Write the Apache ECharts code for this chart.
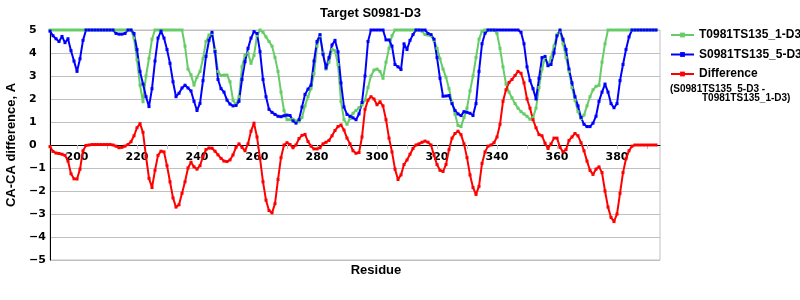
<!DOCTYPE html>
<html><head><meta charset="utf-8">
<script src="https://cdn.jsdelivr.net/npm/echarts@6/dist/echarts.min.js"></script>
<style>html,body{margin:0;padding:0;background:#fff}#c{width:800px;height:300px}</style>
</head><body><div id="c"></div>
<script>
const chartTitle = 'Target S0981-D3';
const xAxisName = 'Residue';
const yAxisName = 'CA-CA difference, A';
const seriesNames = ['T0981TS135_1-D3', 'S0981TS135_5-D3', 'Difference'];
const diffNote = ['(S0981TS135_5-D3 -', 'T0981TS135_1-D3)'];
const firstResidue = 191;
const xTickValues = [200,210,220,230,240,250,260,270,280,290,300,310,320,330,340,350,360,370,380,390];
const xLabelValues = [200,220,240,260,280,300,320,340,360,380];

// T0981TS135_1-D3, residues 191..393
const greenValues = [
  5,5,5,5,5,5,5,5,5,
  5,5,5,5,5,5,5,5,5,5,
  5,5,5,5,5,5,5,5,5,4.65,
  3.7,2.6,1.88,3.0,3.77,4.6,5,5,5,5,
  5,5,5,5,5,5,4.3,3.3,3.05,2.6,
  2.95,3.2,3.75,4.5,4.78,4.85,4.13,3.2,3.02,3.04,
  3.04,2.75,1.95,1.74,2.1,3.4,3.91,4.0,3.55,3.9,
  4.75,5,4.9,4.7,4.5,4.3,3.8,3.2,2.3,1.5,
  1.1,1.1,1.12,1.05,1.01,1.2,1.7,2.1,2.45,3.1,
  4.3,4.75,4.0,3.3,3.6,4.15,4.1,3.5,1.9,1.1,
  0.9,1.15,1.38,1.5,1.62,1.74,1.95,2.5,3.0,3.26,
  3.3,3.2,2.9,3.6,4.2,4.75,5,5,5,5,
  5,5,5,5,5,4.95,4.8,4.78,4.75,4.55,
  4.2,3.75,3.3,2.95,2.45,1.85,1.35,0.85,0.8,1.2,
  1.6,2.35,3.0,3.8,4.6,4.95,5,5,5,5,
  4.85,4.2,3.4,2.65,2.3,2.05,1.8,1.6,1.45,1.35,
  1.25,1.12,1.2,1.6,2.5,3.3,3.8,3.45,3.8,4.3,
  4.8,4.95,4.4,3.8,3.2,2.5,1.95,1.45,1.15,1.3,
  1.7,2.1,2.4,2.55,2.6,3.6,4.4,5,5,5,
  5,5,5,5,5,5,5,5,5,5,
  5,5,5,5
];
// S0981TS135_5-D3, residues 191..393
const blueValues = [
  4.95,4.75,4.62,4.5,4.72,4.45,4.62,4.1,3.65,
  3.2,3.75,4.55,5,5,5,5,5,5,5,
  5,5,5,4.85,4.82,4.82,4.85,5,5,4.85,
  4.15,3.2,2.65,2.1,1.67,2.45,3.65,4.65,4.95,4.65,
  4.15,3.55,2.75,2.1,2.25,2.48,2.6,2.48,2.35,1.9,
  1.5,1.81,2.8,3.85,4.55,4.9,4.06,2.85,2.45,2.3,
  1.95,1.78,1.7,1.72,1.9,2.85,3.62,4.2,4.65,4.93,
  4.85,4.06,2.85,2.1,1.55,1.42,1.33,1.25,1.23,1.27,
  1.3,1.28,1.05,0.95,1.1,1.65,2.2,2.43,2.6,3.65,
  4.5,4.8,3.95,3.35,3.8,4.35,4.55,4.05,2.7,1.65,
  1.33,1.25,1.18,1.1,1.35,1.85,3.0,4.5,5,5,
  5,5,5,4.57,4.57,4.3,3.5,3.4,3.28,4.4,
  4.15,4.55,4.8,5,5,5,5,4.85,4.8,4.6,
  3.8,2.9,2.12,2.13,2.15,1.8,1.5,1.35,1.28,1.45,
  1.42,1.38,1.28,1.8,3.2,4.4,4.86,5,5,5,
  5,5,5,5,5,5,5,5,4.9,4.4,
  3.4,2.8,2.45,2.0,2.9,3.8,3.85,3.45,3.5,4.0,
  4.75,5,4.6,4.15,3.3,2.7,2.1,1.7,1.2,0.9,
  0.8,0.8,0.95,1.25,1.9,2.3,2.65,2.3,1.8,1.62,
  1.8,2.8,3.5,4.15,4.7,5,5,5,5,5,
  5,5,5,5
];
// Difference, residues 191..393
const redValues = [
  -0.07,-0.28,-0.35,-0.37,-0.4,-0.45,-0.7,-1.25,-1.47,
  -1.48,-1.05,-0.25,-0.02,0,0.02,0.02,0.02,0.02,0.02,
  0.02,0.02,0,-0.05,-0.12,-0.1,-0.05,0.02,0.14,0.4,
  0.75,0.93,0.55,-0.5,-1.45,-1.85,-1.1,-0.45,-0.27,-0.3,
  -0.9,-1.6,-2.3,-2.7,-2.6,-2.1,-1.6,-1.0,-0.75,-0.95,
  -1.05,-0.9,-0.5,-0.2,-0.13,-0.14,-0.27,-0.43,-0.58,-0.7,
  -0.72,-0.65,-0.43,-0.1,0.05,-0.1,-0.25,0.05,0.6,0.95,
  0.35,-0.58,-1.6,-2.4,-2.85,-2.95,-2.55,-1.5,-0.55,0.0,
  0.1,0.02,-0.12,0.0,0.28,0.42,0.46,0.15,-0.05,-0.17,
  -0.17,-0.12,0.05,0.12,0.2,0.4,0.63,0.8,0.87,0.65,
  0.3,0.05,-0.25,-0.36,-0.33,0.35,1.55,1.95,2.1,2.0,
  1.75,1.88,1.7,1.1,0.3,-0.3,-1.05,-1.5,-1.3,-0.85,
  -0.65,-0.4,-0.15,0.0,0.05,0.12,0.17,0.12,0.0,-0.45,
  -0.85,-1.1,-1.15,-0.85,-0.2,0.3,0.5,0.6,0.45,0.05,
  -0.55,-1.3,-1.85,-2.15,-1.8,-0.8,-0.3,-0.05,0.0,0.1,
  0.35,0.9,1.9,2.4,2.72,2.85,3.02,3.2,3.12,2.7,
  2.0,1.6,1.1,0.75,0.45,0.4,0.08,-0.15,0.05,0.3,
  0.3,-0.1,-0.3,-0.2,0.2,0.35,0.5,0.4,0.1,-0.25,
  -0.7,-1.1,-1.28,-1.05,-0.95,-1.2,-2.0,-2.7,-3.15,-3.33,
  -3.0,-2.1,-1.2,-0.6,-0.25,-0.05,0,0,0,0,
  0,0,0,0
];
const seriesColors = ['#66CC66', '#0000FF', '#FF0000'];

const toPairs = vals => vals.map((v, i) => [firstResidue + i, v]);
const minus = v => String(v).replace('-', '\u2212');
const FONT = '"Liberation Sans", Arial, sans-serif';
const NUMFONT = '"DejaVu Sans", Verdana, sans-serif';

const chart = echarts.init(document.getElementById('c'), null, {renderer: 'canvas'});
const mkSeries = (name, vals, color) => ({
  name, type: 'line', data: toPairs(vals),
  showSymbol: true, symbol: 'rect', symbolSize: 3,
  lineStyle: {color, width: 2}, itemStyle: {color},
  animation: false, emphasis: {disabled: true}
});
chart.setOption({
  animation: false,
  title: {text: chartTitle, left: 320, top: 7, padding: 0,
    textStyle: {fontFamily: FONT, fontWeight: 'bold', fontSize: 13, color: '#000'}},
  grid: {left: 50, right: 140, top: 30, bottom: 40, outerBoundsMode: 'none', containLabel: false,
    show: true, borderColor: '#c0c0c0', borderWidth: 1, backgroundColor: 'transparent'},
  legend: {
    orient: 'vertical', left: 670, top: 29, itemWidth: 23, itemHeight: 6, itemGap: 7.5, padding: 0,
    data: seriesNames,
    textStyle: {fontFamily: FONT, fontWeight: 'bold', fontSize: 12, color: '#000'}
  },
  xAxis: {
    type: 'value', min: firstResidue, max: 394.33, offset: -115,
    name: xAxisName, nameLocation: 'middle', nameGap: 119,
    nameTextStyle: {fontFamily: FONT, fontWeight: 'bold', fontSize: 13, color: '#000', padding: [0, 0, 0, 42]},
    axisLine: {onZero: false, lineStyle: {color: '#000', width: 1}},
    axisTick: {show: true, length: 4, lineStyle: {color: '#c0c0c0'}, customValues: xTickValues},
    axisLabel: {customValues: xLabelValues, margin: 7, fontFamily: NUMFONT, fontWeight: 'bold', fontSize: 11, color: '#000', formatter: v => minus(v)},
    splitLine: {show: false}
  },
  yAxis: {
    type: 'value', min: -5, max: 5, interval: 1,
    name: yAxisName, nameLocation: 'middle', nameGap: 27,
    nameTextStyle: {fontFamily: FONT, fontWeight: 'bold', fontSize: 13, color: '#000'},
    axisLine: {show: true, onZero: false, lineStyle: {color: '#000', width: 1}},
    axisTick: {show: false},
    axisLabel: {align: 'left', margin: 21, fontFamily: NUMFONT, fontWeight: 'bold', fontSize: 11, color: '#000', formatter: v => minus(v)},
    splitLine: {show: true, lineStyle: {color: '#c0c0c0', width: 1}}
  },
  graphic: [
    {type: 'text', left: 670, top: 84.5, style: {text: diffNote[0], font: 'bold 10px ' + FONT, fill: '#000'}},
    {type: 'text', left: 702, top: 93.5, style: {text: diffNote[1], font: 'bold 10px ' + FONT, fill: '#000'}}
  ],
  series: [
    mkSeries(seriesNames[0], greenValues, seriesColors[0]),
    mkSeries(seriesNames[1], blueValues, seriesColors[1]),
    mkSeries(seriesNames[2], redValues, seriesColors[2])
  ]
});
</script></body></html>
